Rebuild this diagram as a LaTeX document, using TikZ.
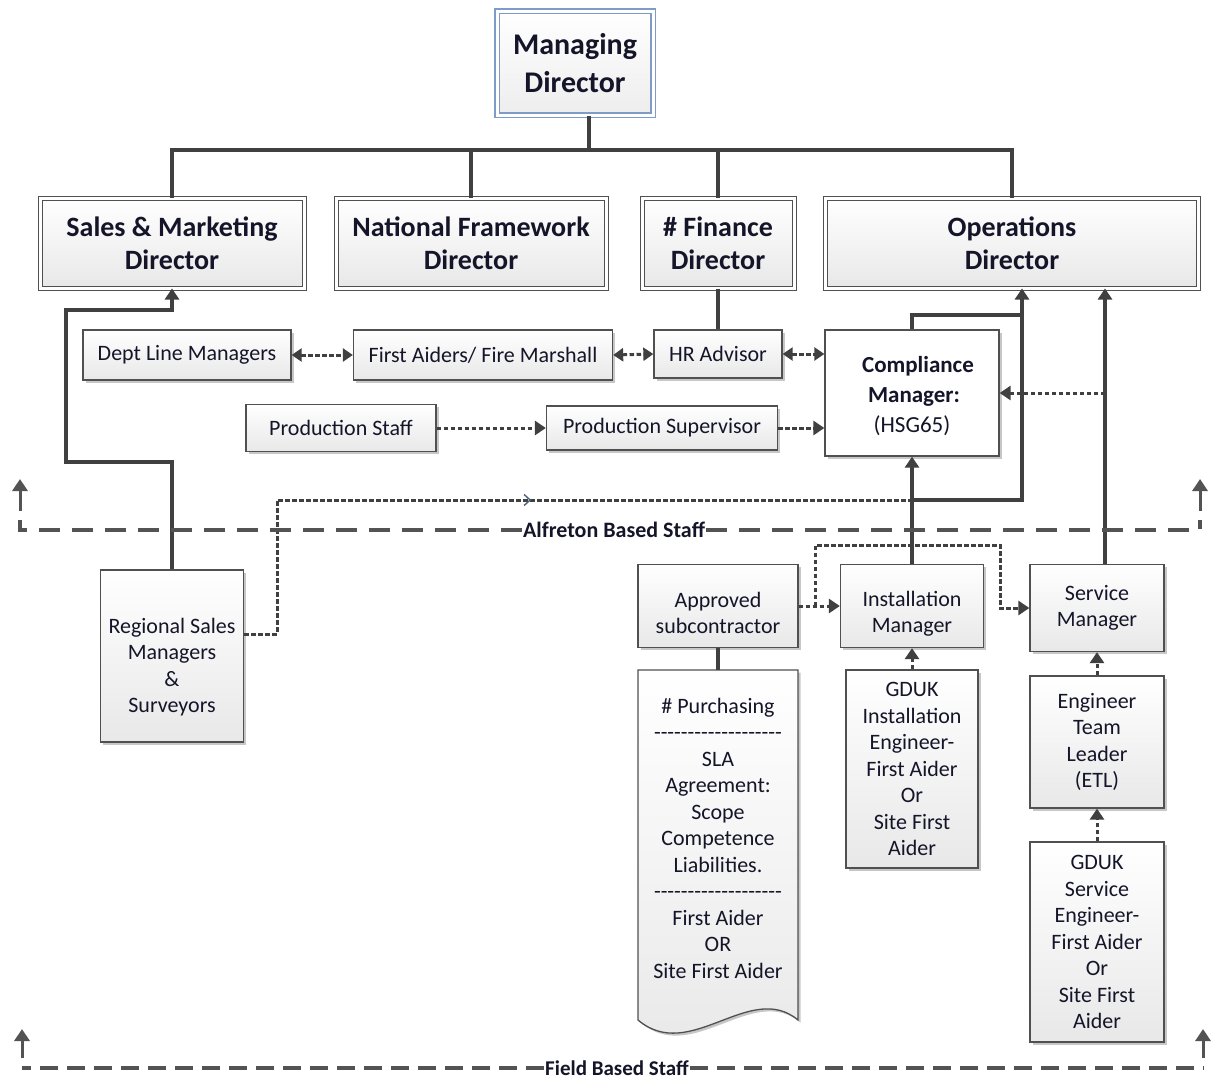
\documentclass[tikz,border=0pt]{standalone}
\usepackage{fontspec}
\setmainfont{Carlito}
\usetikzlibrary{arrows.meta,shadows,decorations.markings,calc}
\definecolor{ln}{HTML}{404040}
\definecolor{bd}{HTML}{505050}
\definecolor{txt}{HTML}{15152A}
\definecolor{mdb}{HTML}{7F9CC8}
\newcommand\hh{-\kern0pt}
\newcommand\dashrow{\hh\hh\hh\hh\hh\hh\hh\hh\hh\hh\hh\hh\hh\hh\hh\hh\hh\hh\hh}
\newcommand\up[1]{\rule{0pt}{#1pt}}
\tikzset{
  box/.style={draw=bd, line width=1.3pt, top color=white, bottom color=black!9,
    text=txt, align=center, inner sep=0pt, font=\fontsize{22}{26.5}\selectfont,
    drop shadow={shadow xshift=2.5pt, shadow yshift=-2.5pt, opacity=0.22, fill=black}},
  plainbox/.style={draw=bd, line width=1.3pt, fill=white, text=txt, align=center, inner sep=0pt,
    drop shadow={shadow xshift=2.5pt, shadow yshift=-2.5pt, opacity=0.22, fill=black}},
  dirbox/.style={box, double=white, double distance=3pt, line width=1pt,
    font=\bfseries\fontsize{28}{33}\selectfont},
  solidc/.style={draw=ln, line width=3.3pt},
  dotc/.style={draw=ln, line width=3pt, dash pattern=on 4.5pt off 2.5pt},
  arr/.style={-{Triangle[length=11pt,width=14pt]}},
  darr/.style={{Triangle[length=10pt,width=13pt]}-{Triangle[length=10pt,width=13pt]}},
  gdash/.style={draw=ln!90, line width=3.2pt, dash pattern=on 21pt off 12pt},
  fdash/.style={draw=ln!90, line width=3.2pt, dash pattern=on 18pt off 9pt},
  uparr/.style={draw=ln!90, line width=3pt, -{Triangle[length=12pt,width=15pt]}},
  glabel/.style={fill=white, inner xsep=1pt, inner ysep=2pt, text=txt, font=\bfseries\fontsize{22}{24}\selectfont}
}
\begin{document}
\begin{tikzpicture}[x=1pt,y=-1pt]
\fill[white] (0,0) rectangle (1211,1080);
\useasboundingbox (0,0) rectangle (1211,1080);

% top level
\node[dirbox, draw=mdb, top color=white, bottom color=black!7, line width=1.2pt,
  minimum width=156, minimum height=104, font=\bfseries\fontsize{30}{38}\selectfont] (md) at (575,63) {Managing\\Director};

\node[dirbox, minimum width=264, minimum height=90] (sales) at (172,243) {Sales \& Marketing\\Director};
\node[dirbox, minimum width=270, minimum height=90] (nat) at (471,243) {National Framework\\Director};
\node[dirbox, minimum width=152, minimum height=90] (fin) at (718,243) {\# Finance\\Director};
\node[dirbox, minimum width=373, minimum height=90] (ops) at (1012,243) {Operations\\Director};

% middle rows
\node[box, minimum width=208, minimum height=50] (dlm) at (187,355) {Dept Line Managers};
\node[box, minimum width=259, minimum height=50] (fa) at (483,355) {First Aiders/ Fire Marshall};
\node[box, minimum width=128, minimum height=48] (hr) at (718,354) {HR Advisor};
\node[plainbox, minimum width=174, minimum height=126, font=\fontsize{23}{30}\selectfont] (comp) at (912,393)
  {\up{22}\hspace{12pt}\textbf{Compliance}\\\hspace{4pt}\textbf{Manager:}\\(HSG65)};
\node[box, minimum width=190, minimum height=47] (ps) at (341,428) {Production Staff};
\node[box, minimum width=231, minimum height=44] (psup) at (662,428) {Production Supervisor};

% lower boxes
\node[box, minimum width=143, minimum height=172] (rs) at (172,656) {\up{38}Regional Sales\\Managers\\\&\\Surveyors};
\node[box, minimum width=160, minimum height=83] (as) at (718,606) {\up{29}Approved\\subcontractor};
\node[box, minimum width=143, minimum height=83] (im) at (912,606) {\up{31}Installation\\Manager};
\node[box, minimum width=134, minimum height=87] (sm) at (1097,608) {Service\\Manager};
\node[box, minimum width=132, minimum height=198] (gi) at (912,769) {GDUK\\Installation\\Engineer-\\First Aider\\Or\\Site First\\Aider};
\node[box, minimum width=134, minimum height=132] (etl) at (1097,742) {Engineer\\Team\\Leader\\(ETL)};
\node[box, minimum width=134, minimum height=200] (gs) at (1097,942) {GDUK\\Service\\Engineer-\\First Aider\\Or\\Site First\\Aider};

% document shape
\path[draw=bd, line width=1.3pt, top color=white, bottom color=black!9,
  drop shadow={shadow xshift=2.5pt, shadow yshift=-2.5pt, opacity=0.22, fill=black}]
  (638,670) -- (798,670) -- (798,1020) .. controls (750,980) and (690,1064) .. (638,1020) -- cycle;
\coordinate (purtop) at (718,670);
\node[text=txt, align=center, font=\fontsize{22}{26.5}\selectfont] (pur) at (718,838)
  {\# Purchasing\\\dashrow\\SLA\\Agreement:\\Scope\\Competence\\Liabilities.\\\dashrow\\First Aider\\OR\\Site First Aider};

% coordinates
\coordinate (bus) at (589,150);
\coordinate (oa) at ([xshift=10]ops.south);
\coordinate (ob) at ([xshift=93]ops.south);
\coordinate (k1) at (1022,315);
\coordinate (j) at (912,500);
\coordinate (k2) at (1105,393);
\coordinate (k3) at (815,606);

% top tree
\draw[solidc] ([xshift=14]md.south) -- (bus);
\draw[solidc] (sales.north) |- (bus) -| (ops.north);
\draw[solidc] (nat.north) -- (nat.north |- bus);
\draw[solidc] (fin.north) -- (fin.north |- bus);
\draw[solidc] (fin.south) -- (hr.north);

% middle dotted
\draw[dotc, darr] (dlm.east) -- (fa.west);
\draw[dotc, darr] (fa.east) -- (hr.west);
\draw[dotc, darr] (hr.east) -- (hr.east -| comp.west);
\draw[dotc, arr] (ps.east) -- (psup.west);
\draw[dotc, arr] (psup.east) -- (psup.east -| comp.west);

% operations links
\draw[solidc] (comp.north) |- (k1);
\draw[solidc, arr] (im.north) -- (comp.south);
\draw[solidc, arr] (j) -| (oa);
\draw[solidc, arr] ([xshift=8]sm.north) -- (ob);
\draw[dotc, arr] (k2) -- (comp.east);

% sales link
\draw[solidc, arr] (rs.north) -- (172,462) -- (66,462) -- (66,310) -- (172,310) -- (sales.south);
\draw[dotc, postaction={decorate}, decoration={markings,
   mark=at position 421pt with {\arrow[draw=mdb!60!black, line width=1.4pt]{Straight Barb[length=6pt,width=11pt]}}}]
   ([yshift=22]rs.east) -- (277,634) -- (277,500) -- (j);

% lower links
\draw[dotc, arr] (as.east) -- (im.west);
\draw[dotc, arr] (k3) |- (1000,545) |- (sm.west);
\draw[solidc] (as.south) -- (purtop);
\draw[dotc, arr] (gi.north) -- (im.south);
\draw[dotc, arr] (etl.north) -- (sm.south);
\draw[dotc, arr] (gs.north) -- (etl.south);

% group lines
\node[glabel] (alab) at (614,530) {Alfreton Based Staff};
\draw[gdash] (alab.west) -- (20,530) -- (20,520);
\draw[gdash] (alab.east) -- (1200,530) -- (1200,520);
\coordinate (al1) at (20,511); \coordinate (al2) at (20,479);
\coordinate (ar1) at (1200,511); \coordinate (ar2) at (1200,479);
\draw[uparr] (al1) -- (al2);
\draw[uparr] (ar1) -- (ar2);
\node[glabel, font=\bfseries\fontsize{21}{22}\selectfont] (flab) at (617,1068) {Field Based Staff};
\draw[fdash] (flab.west) -- (22,1068);
\draw[fdash] (flab.east) -- (1203,1068);
\coordinate (fl1) at (22,1058); \coordinate (fl2) at (22,1029);
\coordinate (fr1) at (1203,1058); \coordinate (fr2) at (1203,1029);
\draw[uparr] (fl1) -- (fl2);
\draw[uparr] (fr1) -- (fr2);
\end{tikzpicture}
\end{document}
